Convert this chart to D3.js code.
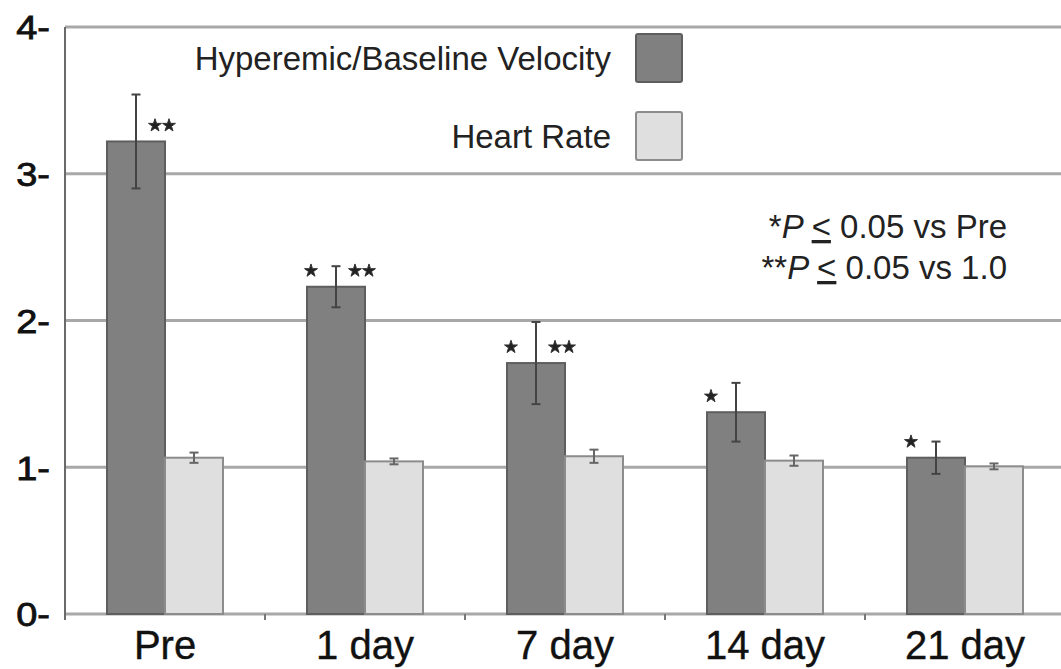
<!DOCTYPE html>
<html>
<head>
<meta charset="utf-8">
<script src="https://cdn.jsdelivr.net/npm/d3@7"></script>
<style>
  body { margin: 0; background: #fff; }
  svg { display: block; }
</style>
</head>
<body>
<svg id="chart"></svg>
<script>
// data
const categories = ["Pre", "1 day", "7 day", "14 day", "21 day"]
const seriesNames = ["Hyperemic/Baseline Velocity", "Heart Rate"]
const velocity = [3.22, 2.23, 1.71, 1.375, 1.065]
const velocityErr = [0.32, 0.14, 0.28, 0.2, 0.11]
const heartRate = [1.065, 1.04, 1.075, 1.045, 1.006]
const heartRateErr = [0.035, 0.02, 0.045, 0.035, 0.02]
const sigVsPre = [false, true, true, true, true]   // *
const sigVsOne = [true, true, true, false, false]  // **
const yTicks = [0, 1, 2, 3, 4]
const noteLines = ["*", "**"]

const width = 1061, height = 669
const font = "Liberation Sans, Arial, Helvetica, sans-serif"
const fills = ["#808080", "#dfdfdf"]
const strokes = ["#5e5e5e", "#8c8c8c"]
const errColors = ["#444", "#666"]

const margin = { top: 27, right: -4, bottom: 55, left: 65 }
const chartWidth = width - margin.left - margin.right
const chartHeight = height - margin.top - margin.bottom

const svgRoot = d3.select("#chart").attr("width", width).attr("height", height)
svgRoot.append("rect").attr("width", width).attr("height", height).attr("fill", "#fff")

const svg = svgRoot.append("g")
  .attr("transform", `translate(${margin.left},${margin.top})`)

// scales
const x = d3.scaleBand().domain(categories).range([0, chartWidth])
const groupWidth = 116
const x1 = d3.scaleBand().domain(seriesNames)
  .range([(x.step() - groupWidth) / 2, (x.step() + groupWidth) / 2])
const y = d3.scaleLinear().domain([0, 4]).range([chartHeight, 0])

// grid
svg.append("g").attr("id", "grid")
  .selectAll("line")
  .data(yTicks)
  .join("line")
  .attr("x1", 0)
  .attr("x2", chartWidth)
  .attr("y1", d => y(d))
  .attr("y2", d => y(d))
  .attr("stroke", "#a8a8a8")
  .attr("stroke-width", 3)

// y axis (labels look wide in the original, so stretch them a bit)
const yAxis = g => g
  .call(d3.axisLeft(y).tickValues(yTicks).tickSize(0).tickPadding(0).tickFormat(d => d + "-"))
  .call(g => g.select(".domain").attr("d", `M0,${y(4)}V${chartHeight + 6}`)
    .attr("stroke", "#6a6a6a").attr("stroke-width", 2))
  .call(g => g.selectAll("text")
    .attr("x", 0)
    .attr("transform", "translate(-15,0) scale(1.15,1)")
    .attr("font-family", font)
    .attr("font-size", 33)
    .attr("fill", "#111")
    .attr("stroke", "#111")
    .attr("stroke-width", 0.8)
    .attr("dy", "0.36em"))

svg.append("g").call(yAxis)

// x axis (ticks between groups)
const xAxis = g => g
  .attr("transform", `translate(0,${chartHeight})`)
  .call(d3.axisBottom(x).tickSize(0).tickPadding(16))
  .call(g => g.select(".domain").remove())
  .call(g => g.selectAll("text")
    .attr("font-family", font)
    .attr("font-size", 40)
    .attr("fill", "#111")
    .attr("stroke", "#111")
    .attr("stroke-width", 0.4)
    .attr("dy", "0.72em"))
  .call(g => g.selectAll(".sep")
    .data(categories.slice(1))
    .join("line")
    .attr("class", "sep")
    .attr("x1", d => x(d))
    .attr("x2", d => x(d))
    .attr("y1", 0)
    .attr("y2", 6)
    .attr("stroke", "#777")
    .attr("stroke-width", 2))

svg.append("g").call(xAxis)

// bars
const rows = categories.map((c, i) => ({
  cat: c,
  vals: [
    { s: 0, v: velocity[i], e: velocityErr[i] },
    { s: 1, v: heartRate[i], e: heartRateErr[i] }
  ],
  sig1: sigVsPre[i],
  sig2: sigVsOne[i]
}))

const groups = svg.append("g").attr("id", "bars")
  .selectAll("g")
  .data(rows)
  .join("g")
  .attr("transform", d => `translate(${x(d.cat)},0)`)

groups.selectAll("rect")
  .data(d => d.vals)
  .join("rect")
  .attr("x", d => x1(seriesNames[d.s]))
  .attr("y", d => y(d.v))
  .attr("width", x1.bandwidth())
  .attr("height", d => chartHeight - y(d.v))
  .attr("fill", d => fills[d.s])
  .attr("stroke", d => strokes[d.s])
  .attr("stroke-width", 2)

// error bars
const err = groups.selectAll("g.err")
  .data(d => d.vals)
  .join("g")
  .attr("class", "err")
  .attr("stroke", d => errColors[d.s])
  .attr("stroke-width", 2)
  .attr("transform", d => `translate(${x1(seriesNames[d.s]) + x1.bandwidth() / 2},0)`)

err.append("line")
  .attr("y1", d => y(d.v + d.e))
  .attr("y2", d => y(d.v - d.e))
err.selectAll("line.cap")
  .data(d => [d.v + d.e, d.v - d.e])
  .join("line")
  .attr("class", "cap")
  .attr("x1", -4.5)
  .attr("x2", 4.5)
  .attr("y1", d => y(d))
  .attr("y2", d => y(d))

// significance stars
const star = d3.symbol().type(d3.symbolStar).size(52)
const cx = x1(seriesNames[0]) + x1.bandwidth() / 2
groups.each(function (d) {
  const g = d3.select(this)
  const top = y(velocity[categories.indexOf(d.cat)]) - 16
  const pos = []
  if (d.sig1) pos.push(cx - 25)
  if (d.sig2) pos.push(cx + 19, cx + 33)
  g.selectAll("path.star")
    .data(pos)
    .join("path")
    .attr("class", "star")
    .attr("d", star)
    .attr("transform", p => `translate(${p},${top})`)
    .attr("fill", "#222")
    .attr("stroke", "#333")
    .attr("stroke-width", 1)
})

// legend
const legend = svgRoot.append("g").attr("id", "legend")
  .attr("transform", "translate(683,58)")
const li = legend.selectAll("g")
  .data(seriesNames)
  .join("g")
  .attr("transform", (d, i) => `translate(0,${i * 78})`)
li.append("rect")
  .attr("x", -47).attr("y", -24)
  .attr("width", 46).attr("height", 48)
  .attr("rx", 2)
  .attr("fill", (d, i) => fills[i])
  .attr("stroke", (d, i) => strokes[i])
  .attr("stroke-width", 2)
li.append("text")
  .attr("x", -72)
  .attr("dy", "0.36em")
  .attr("text-anchor", "end")
  .attr("font-family", font)
  .attr("font-size", 33)
  .attr("fill", "#222")
  .text(d => d)

// note
const note = svgRoot.append("g").attr("id", "note")
  .selectAll("text")
  .data(noteLines)
  .join("text")
  .attr("x", 1007)
  .attr("y", (d, i) => 238 + i * 41)
  .attr("text-anchor", "end")
  .attr("font-family", font)
  .attr("font-size", 33)
  .attr("fill", "#222")
note.append("tspan").text(d => d)
note.append("tspan").attr("font-style", "italic").text("P ")
note.append("tspan").style("text-decoration", "underline").text("<")
note.append("tspan").text((d, i) => i === 0 ? " 0.05 vs Pre" : " 0.05 vs 1.0")
</script>
</body>
</html>
